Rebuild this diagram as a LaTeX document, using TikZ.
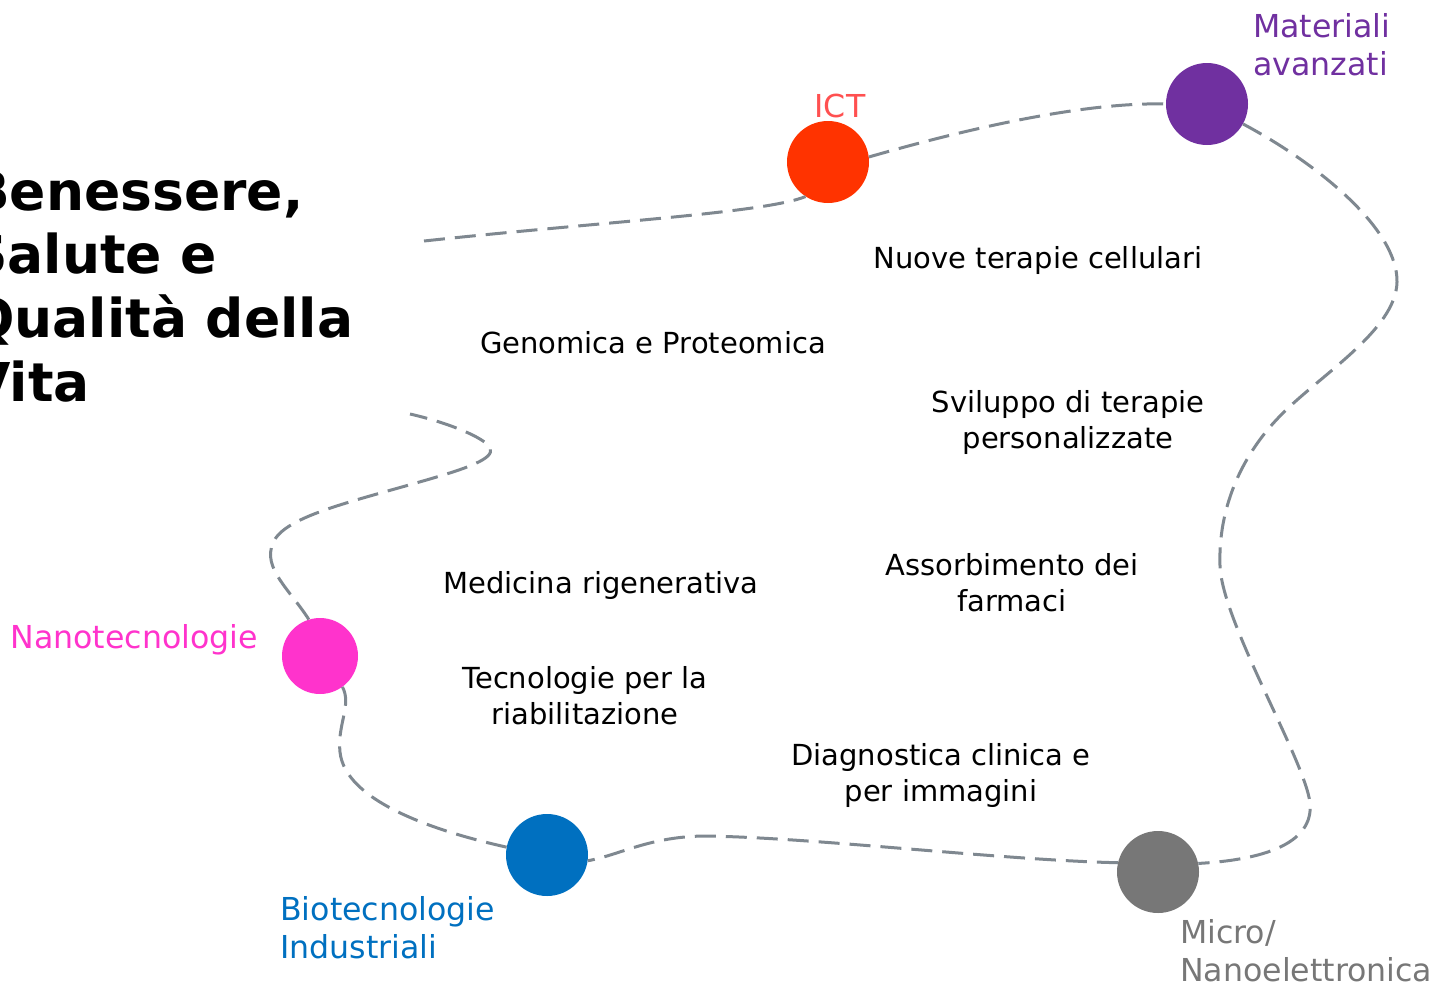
\documentclass[tikz,border=0pt]{standalone}
\usepackage{fontspec}
\setmainfont{DejaVu Sans}
\definecolor{ictc}{HTML}{FF3300}
\definecolor{ictl}{HTML}{FF5050}
\definecolor{matc}{HTML}{7030A0}
\definecolor{micc}{HTML}{777777}
\definecolor{bioc}{HTML}{0070C0}
\definecolor{nanc}{HTML}{FF33CC}
\definecolor{pathc}{HTML}{7F8890}
\begin{document}
\begin{tikzpicture}[x=1pt,y=-1pt,
  dot/.style={circle, inner sep=0pt, draw=none, minimum size=82pt},
  route/.style={draw=pathc, line width=3pt, dash pattern=on 21pt off 10pt},
  lbl/.style={inner sep=0pt, font=\fontsize{29}{36}\selectfont, align=center, text=black},
  clbl/.style={inner sep=0pt, font=\fontsize{31.6}{38.5}\selectfont, align=left},
  ttl/.style={inner sep=0pt, font=\fontsize{53.5}{63.7}\selectfont\bfseries, align=left}]
\useasboundingbox (0,0) rectangle (1437,985);

% waypoints
\coordinate (s) at (424,241);
\coordinate (e) at (410,414);
\coordinate (w1) at (1397,282);
\coordinate (w2) at (1280,416);
\coordinate (w3) at (1220,566);
\coordinate (w4) at (1310,803);
\coordinate (w6) at (707,836);
\coordinate (w7) at (340,752);
\coordinate (w8) at (273,543);
\coordinate (w9) at (440,476);
\coordinate (w10) at (488,445);

% circles
\node[dot, fill=ictc] (ict) at (828,162) {};
\node[dot, fill=matc] (mat) at (1207,104) {};
\node[dot, fill=micc] (mic) at (1158,872) {};
\node[dot, fill=bioc] (bio) at (547,855) {};
\node[dot, fill=nanc, minimum size=76pt] (nan) at (320,656) {};

% route
\draw[route] (s) .. controls (600,222) and (765,213) .. (ict.237);
\draw[route] (ict.7) .. controls (980,125) and (1090,102) .. (mat.180);
\draw[route] (mat.331) .. controls (1320,165) and (1398,230) .. (w1)
  .. controls (1396,330) and (1320,375) .. (w2)
  .. controls (1240,457) and (1218,510) .. (w3)
  .. controls (1222,622) and (1305,760) .. (w4)
  .. controls (1314,845) and (1260,860) .. (mic.12);
\draw[route] (mic.167) .. controls (1000,860) and (820,838) .. (w6)
  .. controls (650,836) and (620,855) .. (bio.352);
\draw[route] (bio.169) .. controls (430,830) and (345,800) .. (w7)
  .. controls (337,725) and (352,705) .. (nan.306);
\draw[route] (nan.107) .. controls (290,590) and (262,568) .. (w8)
  .. controls (284,515) and (360,500) .. (w9)
  .. controls (480,464) and (498,455) .. (w10)
  .. controls (478,435) and (445,422) .. (e);

% title
\node[ttl, anchor=north west] (title) at (-31,171) {Benessere,\\Salute e\\Qualità della\\Vita};

% coloured labels
\node[clbl, text=ictl, anchor=base] (ictlab) at (840,117) {ICT};
\node[clbl, text=matc, anchor=north west] (matlab) at (1253,13) {Materiali\\avanzati};
\node[clbl, text=micc, anchor=north west] (miclab) at (1180,919) {Micro/\\Nanoelettronica};
\node[clbl, text=bioc, anchor=north west] (biolab) at (280,896) {Biotecnologie\\Industriali};
\node[clbl, text=nanc, anchor=base east] (nanlab) at (258,648) {Nanotecnologie};

% black labels
\node[lbl, anchor=base] (t1) at (1038,268) {Nuove terapie cellulari};
\node[lbl, anchor=base] (t2) at (653,353) {Genomica e Proteomica};
\node[lbl, anchor=north] (t3) at (1068,390) {Sviluppo di terapie\\personalizzate};
\node[lbl, anchor=north] (t4) at (1012,553) {Assorbimento dei\\farmaci};
\node[lbl, anchor=base] (t5) at (601,593) {Medicina rigenerativa};
\node[lbl, anchor=north] (t6) at (585,666) {Tecnologie per la\\riabilitazione};
\node[lbl, anchor=north] (t7) at (941,743) {Diagnostica clinica e\\per immagini};
\end{tikzpicture}
\end{document}
